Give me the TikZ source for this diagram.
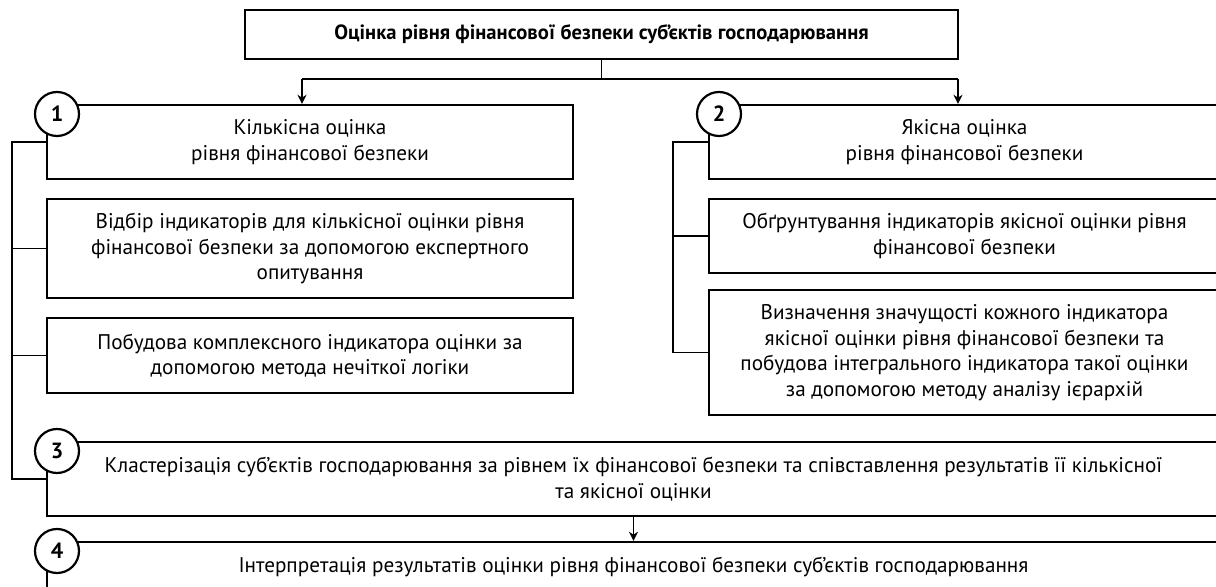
\documentclass[tikz,border=0pt]{standalone}
\usepackage{fontspec}
\setmainfont{PT Sans}
\usepackage{tikz}
\usetikzlibrary{positioning}
\usetikzlibrary{arrows.meta}

\tikzset{
    box/.style={draw, line width=1.2pt, rectangle, align=center, inner sep=0pt},
    num/.style={draw, circle, line width=1.1pt, fill=white, minimum size=22pt, inner sep=0pt,
        font=\bfseries\fontsize{11}{13}\selectfont},
    link/.style={line width=0.7pt},
    arr/.style={link, -{Stealth[length=4.5pt, width=4.5pt]}}
}

\begin{document}
\begin{tikzpicture}[x=0.5pt, y=-0.5pt, font=\fontsize{10.6}{12.8}\selectfont]
    \useasboundingbox (0,0) rectangle (1216,587);
    \clip (0,0) rectangle (1216,587);

    % Top box
    \node[box, minimum width=356.5pt, minimum height=24.5pt,
        font=\bfseries\fontsize{10.3}{12}\selectfont] (title) at (601.5,34.5)
        {Оцінка рівня фінансової безпеки суб’єктів господарювання};

    % Quantitative branch
    \node[box, minimum width=263pt, minimum height=37pt] (kilk) at (310,142)
        {Кількісна оцінка\\рівня фінансової безпеки};
    \node[box, minimum width=263pt, minimum height=49.5pt] (kilk1) at (310,248.5)
        {Відбір індикаторів для кількісної оцінки рівня\\фінансової безпеки за допомогою експертного\\опитування};
    \node[box, minimum width=263pt, minimum height=37.5pt] (kilk2) at (310,355.5)
        {Побудова комплексного індикатора оцінки за\\допомогою метода нечіткої логіки};

    % Qualitative branch
    \node[box, minimum width=255.5pt, minimum height=37pt] (yak) at (964.5,142)
        {Якісна оцінка\\рівня фінансової безпеки};
    \node[box, minimum width=255.5pt, minimum height=37pt] (yak1) at (964.5,236)
        {Обґрунтування індикаторів якісної оцінки рівня\\фінансової безпеки};
    \node[box, minimum width=255.5pt, minimum height=62.5pt] (yak2) at (964.5,352.5)
        {Визначення значущості кожного індикатора\\якісної оцінки рівня фінансової безпеки та\\побудова інтегрального індикатора такої оцінки\\за допомогою методу  аналізу ієрархій};

    % Clustering and interpretation
    \node[box, minimum width=586.5pt, minimum height=37pt] (klast) at (633.5,479)
        {Кластерізація суб’єктів господарювання за рівнем їх фінансової безпеки та співставлення результатів її кількісної\\та якісної оцінки};
    \node[box, minimum width=586.5pt, minimum height=25pt] (interp) at (633.5,567)
        {Інтерпретація результатів оцінки рівня фінансової безпеки суб’єктів господарювання};

    % Step numbers
    \node[num] (n1) at (57,114) {1};
    \node[num] (n2) at (719,114) {2};
    \node[num] (n3) at (57,451) {3};
    \node[num] (n4) at (57,551) {4};

    % Split from the top box
    \coordinate (a1) at (302,79);
    \coordinate (a2) at (958,79);
    \draw[link] (title.south) -- (title.south |- a1);
    \draw[link] (a1) -- (a2);
    \draw[arr] (a1) -- (a1 |- kilk.north);
    \draw[arr] (a2) -- (a2 |- yak.north);

    % Left bus
    \coordinate (lbus) at (12,0);
    \draw[link] (kilk.west) -- (kilk.west -| lbus) -- (klast.west -| lbus) -- (klast.west);
    \draw[link] (kilk1.west) -- (kilk1.west -| lbus);
    \draw[link] (kilk2.west) -- (kilk2.west -| lbus);

    % Right bus
    \coordinate (rbus) at (673,0);
    \draw[link] (yak.west) -- (yak.west -| rbus) -- (yak2.west -| rbus) -- (yak2.west);
    \draw[link] (yak1.west) -- (yak1.west -| rbus);

    \draw[arr] (klast.south) -- (interp.north);
\end{tikzpicture}
\end{document}
